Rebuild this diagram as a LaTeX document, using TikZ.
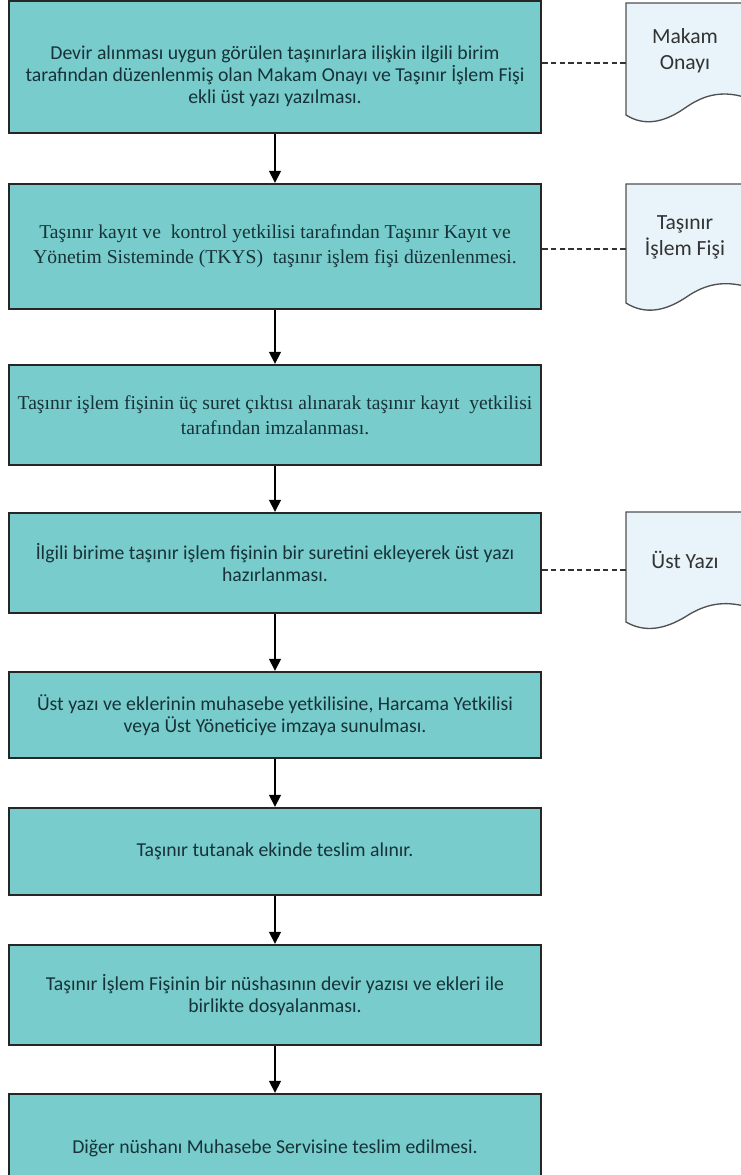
\documentclass[tikz,border=0pt]{standalone}
\usepackage{fontspec}
\setmainfont{Carlito}
\newfontfamily\timesyazi{Liberation Serif}
\usepackage{xcolor}
\usetikzlibrary{arrows.meta}
\definecolor{kutumavi}{HTML}{78CCCC}
\definecolor{yazirengi}{HTML}{173238}
\definecolor{belgemavi}{HTML}{E8F4FA}
\definecolor{belgecizgi}{HTML}{505050}
\tikzset{>=stealth}
\tikzset{adimyazi/.style={align=center, text=yazirengi, font=\fontsize{14.8}{16.5}\selectfont}}
\tikzset{adim/.style={adimyazi, draw=black!85, line width=1.8pt, fill=kutumavi, minimum width=399pt,
    inner sep=0pt}}
\tikzset{adimtimes/.style={adim, font=\timesyazi\fontsize{14.7}{18.7}\selectfont}}
\tikzset{ok/.style={-{Triangle[length=9pt,width=9pt]}, line width=1.1pt}}
\tikzset{belge/.style={draw=belgecizgi, line width=1pt, fill=belgemavi}}
\tikzset{belgeyazi/.style={align=center, text=black!80, font=\fontsize{16.2}{19.5}\selectfont}}
\tikzset{kesik/.style={draw=black!80, line width=0.9pt, dash pattern=on 4pt off 2.5pt}}

\begin{document}
\begin{tikzpicture}[x=0.75pt,y=-0.75pt]
      \clip (0,0) rectangle (741,1175);
      \fill[white] (0,0) rectangle (741,1175);
      % adimlar
      \node[adim, minimum height=99pt] (devir) at (275,67) {};
      \node[adimyazi] (devirmetin) at (275,76) {Devir alınması uygun görülen taşınırlara ilişkin ilgili birim\\tarafından düzenlenmiş olan Makam Onayı ve Taşınır İşlem Fişi\\ekli üst yazı yazılması.};
      \node[adimtimes, minimum height=93.75pt] (tkys) at (275,246.5) {Taşınır kayıt ve\ \ kontrol yetkilisi tarafından Taşınır Kayıt ve\\Yönetim Sisteminde (TKYS)\ \ taşınır işlem fişi düzenlenmesi.};
      \node[adimtimes, minimum height=75pt] (imza) at (275,415) {Taşınır işlem fişinin üç suret çıktısı alınarak taşınır kayıt\ \ yetkilisi\\tarafından imzalanması.};
      \node[adim, minimum height=75pt] (ustyazi) at (275,563) {İlgili birime taşınır işlem fişinin bir suretini ekleyerek üst yazı\\hazırlanması.};
      \node[adim, minimum height=64.5pt] (sunum) at (275,715) {Üst yazı ve eklerinin muhasebe yetkilisine, Harcama Yetkilisi\\veya Üst Yöneticiye imzaya sunulması.};
      \node[adim, minimum height=65.25pt] (teslim) at (275,851.5) {Taşınır tutanak ekinde teslim alınır.};
      \node[adim, minimum height=75pt] (dosya) at (275,995) {Taşınır İşlem Fişinin bir nüshasının devir yazısı ve ekleri ile\\birlikte dosyalanması.};
      \node[adim, minimum height=81pt] (muhasebe) at (275,1148) {Diğer nüshanı Muhasebe Servisine teslim edilmesi.};
      \draw[ok] (devir) -- (tkys);
      \draw[ok] (tkys) -- (imza);
      \draw[ok] (imza) -- (ustyazi);
      \draw[ok] (ustyazi) -- (sunum);
      \draw[ok] (sunum) -- (teslim);
      \draw[ok] (teslim) -- (dosya);
      \draw[ok] (dosya) -- (muhasebe);
      % belgeler
      \draw[belge] (626,3) -- (744,3) -- (744,97) .. controls (720,90) and (702,96) .. (685,108) .. controls (665,122) and (645,127) .. (626,115) -- cycle;
      \draw[belge] (626,184) -- (744,184) -- (744,286) .. controls (720,280) and (702,286) .. (685,298) .. controls (665,311) and (645,315) .. (626,303) -- cycle;
      \draw[belge] (626,512) -- (744,512) -- (744,606) .. controls (720,600) and (702,606) .. (685,617) .. controls (665,629) and (645,633) .. (626,622) -- cycle;
      \node[belgeyazi] (onay) at (685,51) {Makam\\Onayı};
      \node[belgeyazi] (fis) at (685,237) {Taşınır\\İşlem Fişi};
      \node[belgeyazi] (yazi) at (685,560) {Üst Yazı};
      \coordinate (onaygiris) at (626,63);
      \coordinate (fisgiris) at (626,249);
      \coordinate (yazigiris) at (626,570);
      \draw[kesik] (devir.east |- onaygiris) -- (onaygiris);
      \draw[kesik] (tkys.east |- fisgiris) -- (fisgiris);
      \draw[kesik] (ustyazi.east |- yazigiris) -- (yazigiris);
\end{tikzpicture}
\end{document}
